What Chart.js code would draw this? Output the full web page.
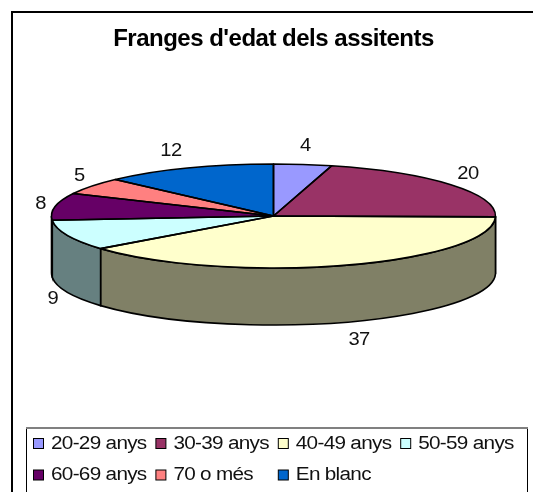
<!DOCTYPE html>
<html>
<head>
<meta charset="utf-8">
<style>html,body{margin:0;padding:0;background:#fff;overflow:hidden}canvas{display:block}</style>
<script src="https://cdn.jsdelivr.net/npm/chart.js@4"></script>
</head>
<body>
<canvas id="c" width="533" height="492"></canvas>
<script>
const categories = ['20-29 anys','30-39 anys','40-49 anys','50-59 anys','60-69 anys','70 o més','En blanc'];
const values = [4,20,37,9,8,5,12];
const colors = ['#9999FF','#993366','#FFFFCC','#CCFFFF','#660066','#FF8080','#0066CC'];
const sideColors = ['#4D4D80','#4D1A33','#808066','#668080','#330033','#804040','#003366'];
const chartTitle = "Franges d'edat dels assitents";

const FONT = '"Liberation Sans", Arial, sans-serif';
const CX = 273.5, CY = 216, RX = 222, RY = 52, DEPTH = 57;
const K = RY / RX;
const labelShiftX = [0, 1, 7, 4, 5, 4, -9];

function stretchedText(ctx, text, x, y, size, sx, align, spacing) {
  ctx.save();
  ctx.font = size + 'px ' + FONT;
  ctx.letterSpacing = spacing + 'px';
  ctx.fillStyle = '#111';
  ctx.textAlign = align;
  ctx.textBaseline = 'middle';
  ctx.translate(x, y);
  ctx.scale(sx, 1);
  ctx.fillText(text, 0, 0);
  ctx.restore();
}

const pie3d = {
  id: 'pie3d',
  beforeDraw(chart) {
    const ctx = chart.ctx;
    ctx.save();
    ctx.fillStyle = '#fff';
    ctx.fillRect(0, 0, 533, 492);
    ctx.strokeStyle = '#000';
    ctx.lineWidth = 2;
    ctx.beginPath();
    ctx.moveTo(12, 496); ctx.lineTo(12, 12); ctx.lineTo(536, 12);
    ctx.stroke();
    ctx.restore();
    ctx.letterSpacing = '-0.5px'; // tight title tracking
  },
  beforeDatasetsDraw(chart) {
    const ctx = chart.ctx;
    ctx.letterSpacing = '0px';
    const arcs = chart.getDatasetMeta(0).data;
    // side walls, only the part of each slice on the near half
    ctx.save();
    ctx.strokeStyle = '#000';
    ctx.lineWidth = 1.6;
    arcs.forEach((a, i) => {
      const s = Math.max(a.startAngle, 0), e = Math.min(a.endAngle, Math.PI);
      if (e <= s) return;
      ctx.beginPath();
      ctx.ellipse(CX, CY, RX, RY, 0, s, e, false);
      ctx.ellipse(CX, CY + DEPTH, RX, RY, 0, e, s, true);
      ctx.closePath();
      ctx.fillStyle = sideColors[i];
      ctx.fill();
      ctx.stroke();
    });
    ctx.restore();
    // squash the library's circular arcs into the tilted disc
    const a0 = arcs[0];
    ctx.save();
    ctx.translate(CX, CY);
    ctx.scale(1, K);
    ctx.translate(-a0.x, -a0.y);
  },
  afterDatasetsDraw(chart) {
    const ctx = chart.ctx;
    ctx.restore();
    const arcs = chart.getDatasetMeta(0).data;
    ctx.save();
    ctx.strokeStyle = '#000';
    ctx.lineWidth = 1.6;
    ctx.lineJoin = 'round';
    arcs.forEach((a) => {
      ctx.beginPath();
      ctx.moveTo(CX, CY);
      ctx.ellipse(CX, CY, RX, RY, 0, a.startAngle, a.endAngle, false);
      ctx.closePath();
      ctx.stroke();
    });
    ctx.restore();
    // value labels just outside the rim
    arcs.forEach((a, i) => {
      const mid = (a.startAngle + a.endAngle) / 2;
      const sy = Math.sin(mid);
      const x = CX + 242 * Math.cos(mid) + labelShiftX[i];
      const y = CY + 72 * sy + (sy > 0 ? DEPTH - 1 : 1);
      stretchedText(ctx, String(values[i]), x, y, 18, 1.12, 'center', -0.5);
    });
  },
  afterDraw(chart) {
    const ctx = chart.ctx;
    ctx.save();
    // legend box
    ctx.strokeStyle = '#000';
    ctx.lineWidth = 1;
    ctx.beginPath();
    ctx.moveTo(26.5, 496); ctx.lineTo(26.5, 428); ctx.moveTo(527.5, 428); ctx.lineTo(527.5, 496);
    ctx.stroke();
    ctx.strokeStyle = '#808080';
    ctx.lineWidth = 2;
    ctx.beginPath();
    ctx.moveTo(26, 428); ctx.lineTo(528, 428);
    ctx.stroke();
    // legend entries on a fixed grid
    categories.forEach((label, i) => {
      const col = i % 4, row = Math.floor(i / 4);
      const x = 33.5 + col * 122.4, y = 438.5 + row * 31.5;
      ctx.fillStyle = colors[i];
      ctx.strokeStyle = '#000';
      ctx.lineWidth = 1;
      ctx.fillRect(x, y, 10, 10);
      ctx.strokeRect(x, y, 10, 10);
      stretchedText(ctx, label, x + 17.5, y + 5.5, 18, 1.15, 'left', -0.6);
    });
    ctx.restore();
  }
};

new Chart(document.getElementById('c'), {
  type: 'pie',
  data: {
    labels: categories,
    datasets: [{
      data: values,
      backgroundColor: colors,
      borderWidth: 0,
      radius: RX,
      clip: false
    }]
  },
  options: {
    responsive: false,
    animation: false,
    events: [],
    layout: { padding: { left: 14, bottom: 40 } },
    plugins: {
      legend: { display: false },
      tooltip: { enabled: false },
      title: {
        display: true,
        text: chartTitle,
        color: '#000',
        font: { family: FONT, size: 24, weight: 'bold' },
        padding: { top: 25, bottom: 10 }
      }
    }
  },
  plugins: [pie3d]
});
</script>
</body>
</html>
